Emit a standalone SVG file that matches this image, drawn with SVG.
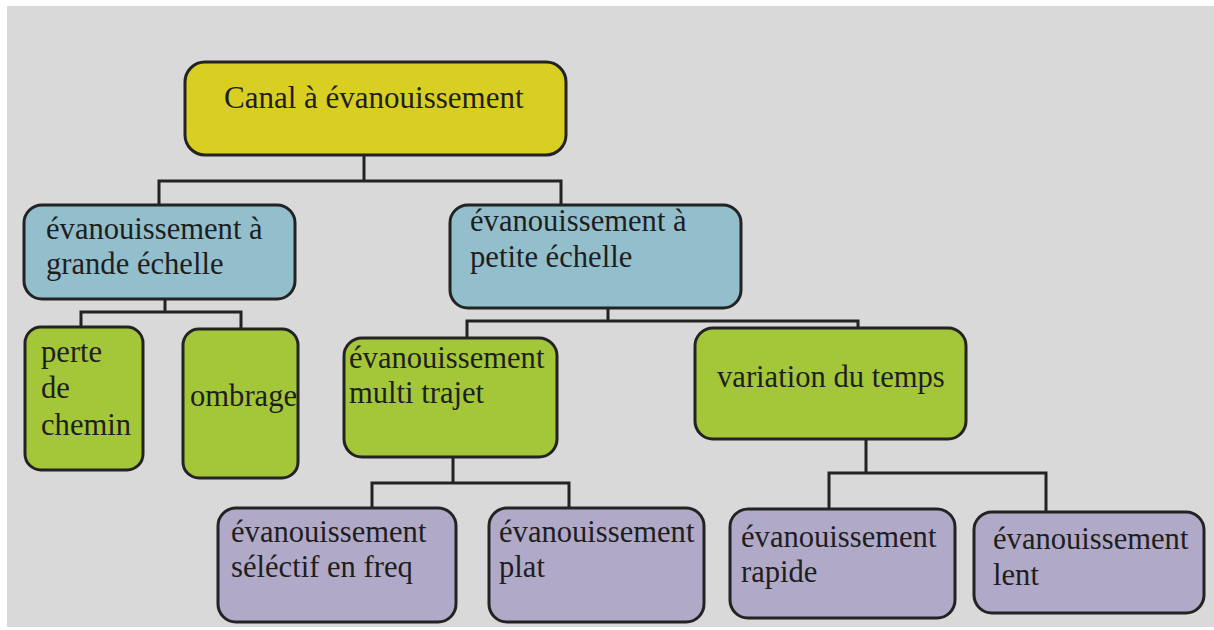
<svg xmlns="http://www.w3.org/2000/svg" width="1214" height="630" viewBox="0 0 1214 630" font-family="Liberation Serif" font-size="30.6">
  <style>
    .box { stroke: #232323; stroke-width: 3; }
    .root { fill: #d8cf22; }
    .blue { fill: #93bfcc; }
    .green { fill: #a4c639; }
    .purple { fill: #b1a9c8; }
    .lbl { fill: #1e1e1e; }
    .wire { fill: none; stroke: #232323; stroke-width: 3; stroke-linejoin: miter; }
  </style>
  <rect x="0" y="0" width="1214" height="630" fill="#ffffff"/>
  <rect x="7" y="6" width="1207" height="621" fill="#d9d9d9"/>

  <g id="connectors">
    <path class="wire" d="M364 155 V181 M159 205 V181 H561 V205"/>
    <path class="wire" d="M165 299 V312 M81 327 V312 H241 V328"/>
    <path class="wire" d="M608 308 V321 M467 338 V321 H858 V328"/>
    <path class="wire" d="M453 457 V483 M372 508 V483 H569 V508"/>
    <path class="wire" d="M866 439 V473 M829 509 V473 H1046 V512"/>
  </g>

  <g id="canal">
    <rect class="box root" x="185" y="62" width="381" height="93" rx="20"/>
    <text class="lbl" x="224" y="108" font-size="31">Canal à évanouissement</text>
  </g>

  <g id="grande-echelle">
    <rect class="box blue" x="24" y="205" width="271" height="94" rx="18"/>
    <text class="lbl" x="46" y="239">évanouissement à</text>
    <text class="lbl" x="46" y="274">grande échelle</text>
  </g>

  <g id="petite-echelle">
    <rect class="box blue" x="450" y="205" width="291" height="103" rx="18"/>
    <text class="lbl" x="470" y="231">évanouissement à</text>
    <text class="lbl" x="470" y="267">petite échelle</text>
  </g>

  <g id="perte-chemin">
    <rect class="box green" x="25" y="327" width="118" height="143" rx="16"/>
    <text class="lbl" x="41" y="362">perte</text>
    <text class="lbl" x="41" y="398">de</text>
    <text class="lbl" x="41" y="435">chemin</text>
  </g>

  <g id="ombrage">
    <rect class="box green" x="183" y="329" width="115" height="149" rx="16"/>
    <text class="lbl" x="190" y="406">ombrage</text>
  </g>

  <g id="multi-trajet">
    <rect class="box green" x="344" y="338" width="213" height="119" rx="18"/>
    <text class="lbl" x="349" y="368">évanouissement</text>
    <text class="lbl" x="349" y="403">multi trajet</text>
  </g>

  <g id="variation-temps">
    <rect class="box green" x="695" y="328" width="271" height="111" rx="18"/>
    <text class="lbl" x="717" y="387">variation du temps</text>
  </g>

  <g id="selectif">
    <rect class="box purple" x="218" y="508" width="238" height="114" rx="18"/>
    <text class="lbl" x="231" y="542">évanouissement</text>
    <text class="lbl" x="231" y="577">séléctif en freq</text>
  </g>

  <g id="plat">
    <rect class="box purple" x="489" y="508" width="215" height="114" rx="18"/>
    <text class="lbl" x="499" y="542">évanouissement</text>
    <text class="lbl" x="499" y="577">plat</text>
  </g>

  <g id="rapide">
    <rect class="box purple" x="730" y="509" width="225" height="109" rx="18"/>
    <text class="lbl" x="741" y="547">évanouissement</text>
    <text class="lbl" x="741" y="582">rapide</text>
  </g>

  <g id="lent">
    <rect class="box purple" x="974" y="512" width="230" height="101" rx="18"/>
    <text class="lbl" x="993" y="549">évanouissement</text>
    <text class="lbl" x="993" y="585">lent</text>
  </g>
</svg>
